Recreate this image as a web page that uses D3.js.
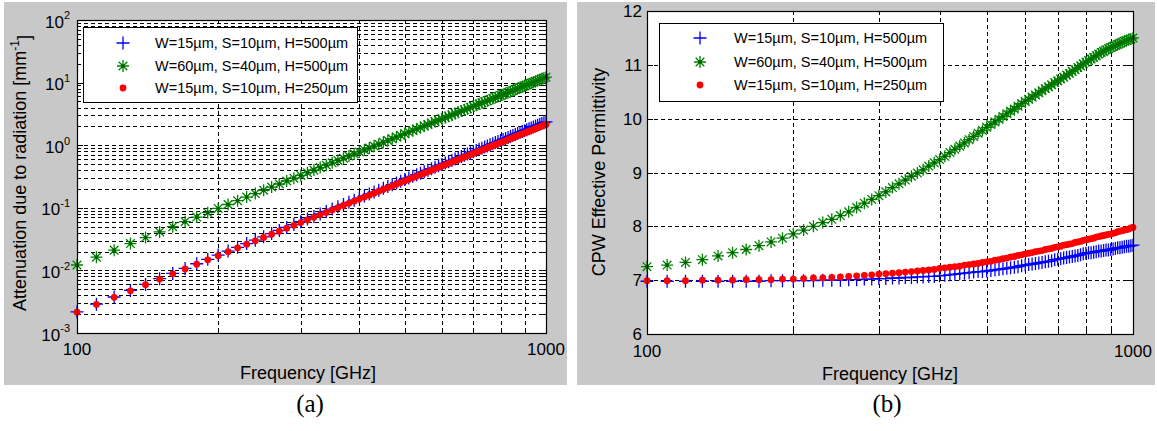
<!DOCTYPE html>
<html>
<head>
<meta charset="utf-8">
<script src="https://cdn.jsdelivr.net/npm/d3@7"></script>
<style>
body { margin: 0; background: #fff; }
text { font-family: Arial, "Liberation Sans", sans-serif; fill: #000; }
</style>
</head>
<body>
<div id="chart"></div>
<script>
// Frequency grid [GHz]
const freqs = [100,110,120,130,140,150,160,170,180,190,200,210,220,230,240,250,260,270,280,290,
  300,310,320,330,340,350,360,370,380,390,400,410,420,430,440,450,460,470,480,490,
  500,510,520,530,540,550,560,570,580,590,600,610,620,630,640,650,660,670,680,690,
  700,710,720,730,740,750,760,770,780,790,800,810,820,830,840,850,860,870,880,890,
  900,910,920,930,940,950,960,970,980,990,1000];

// (a) attenuation due to radiation [mm^-1]
const attBlue = [0.00217,0.00289,0.00376,0.00478,0.00598,0.00737,0.00895,0.01074,0.01277,0.01503,
  0.01754,0.02032,0.02340,0.02680,0.03041,0.03444,0.03878,0.04344,0.04852,0.05392,
  0.05984,0.06609,0.07276,0.07985,0.08737,0.09543,0.1039,0.1129,0.1225,0.1325,
  0.1431,0.1543,0.1660,0.1782,0.1912,0.2047,0.2189,0.2337,0.2492,0.2653,
  0.2822,0.2997,0.3180,0.3371,0.3568,0.3774,0.3987,0.4209,0.4438,0.4677,
  0.4923,0.5178,0.5442,0.5715,0.5997,0.6288,0.6589,0.6899,0.7220,0.7550,
  0.7891,0.8241,0.8603,0.8975,0.9357,0.9750,1.0155,1.0571,1.0999,1.1437,
  1.1889,1.2352,1.2826,1.3313,1.3813,1.4326,1.4851,1.5390,1.5941,1.6506,
  1.7085,1.7676,1.8282,1.8902,1.9537,2.0185,2.0848,2.1525,2.2219,2.2926,
  2.365];
const attGreen = [0.0122,0.01624,0.02108,0.02680,0.03348,0.04118,0.04997,0.05994,0.07115,0.08368,
  0.0976,0.1130,0.1299,0.1484,0.1687,0.1906,0.2144,0.2401,0.2678,0.2975,
  0.3294,0.3634,0.3998,0.4384,0.4795,0.5231,0.5692,0.6180,0.6694,0.7237,
  0.7808,0.8408,0.9039,0.9700,1.0392,1.1117,1.1875,1.2666,1.3492,1.4353,
  1.525,1.6183,1.7154,1.8163,1.9211,2.0298,2.1425,2.2594,2.3804,2.5056,
  2.6352,2.7692,2.9076,3.0506,3.1982,3.3504,3.5075,3.6693,3.8361,4.0078,
  4.1846,4.3665,4.5536,4.7460,4.9437,5.1469,5.3555,5.5697,5.7895,6.0151,
  6.2464,6.4836,6.7267,6.9758,7.2310,7.4923,7.7599,8.0337,8.3140,8.6006,
  8.8938,9.1936,9.5000,9.8132,10.133,10.460,10.794,11.135,11.483,11.838,
  12.2];
const attRed = [0.00215,0.00286,0.00372,0.00472,0.00590,0.00726,0.00881,0.01056,0.01254,0.01475,
  0.0172,0.0199,0.0229,0.0262,0.0297,0.0336,0.0378,0.0423,0.0472,0.0524,
  0.0581,0.0641,0.0705,0.0773,0.0845,0.0922,0.1003,0.1089,0.1180,0.1275,
  0.1376,0.1482,0.1593,0.1709,0.1831,0.1959,0.2093,0.2232,0.2378,0.2529,
  0.2688,0.2852,0.3023,0.3201,0.3385,0.3577,0.3776,0.3982,0.4195,0.4416,
  0.4644,0.4880,0.5124,0.5376,0.5636,0.5904,0.6181,0.6466,0.6760,0.7063,
  0.7375,0.7695,0.8025,0.8364,0.8712,0.9070,0.9438,0.9815,1.0203,1.0600,
  1.1008,1.1426,1.1854,1.2293,1.2743,1.3204,1.3675,1.4158,1.4652,1.5157,
  1.5674,1.6202,1.6742,1.7294,1.7858,1.8434,1.9022,1.9622,2.0236,2.0861,
  2.15];

// (b) CPW effective permittivity
const permBlue = [6.98,6.98,6.98,6.98,6.98,6.98,6.98,6.98,6.99,6.99,
  6.99,6.99,6.99,7.00,7.00,7.00,7.01,7.01,7.02,7.02,
  7.03,7.03,7.04,7.04,7.05,7.05,7.06,7.06,7.07,7.07,
  7.08,7.09,7.10,7.11,7.12,7.13,7.14,7.15,7.16,7.16,
  7.17,7.18,7.19,7.20,7.21,7.22,7.23,7.24,7.25,7.27,
  7.28,7.29,7.30,7.31,7.32,7.33,7.34,7.35,7.36,7.38,
  7.39,7.40,7.41,7.42,7.43,7.44,7.45,7.46,7.47,7.49,
  7.50,7.51,7.51,7.52,7.53,7.54,7.54,7.55,7.56,7.56,
  7.57,7.58,7.59,7.60,7.60,7.61,7.62,7.63,7.63,7.64,
  7.65];
const permGreen = [7.25,7.28,7.33,7.38,7.45,7.51,7.57,7.64,7.71,7.78,
  7.86,7.93,8.00,8.07,8.13,8.20,8.27,8.35,8.43,8.50,
  8.57,8.64,8.72,8.79,8.86,8.93,8.99,9.05,9.12,9.18,
  9.24,9.30,9.37,9.43,9.49,9.55,9.61,9.67,9.73,9.78,
  9.84,9.89,9.94,9.99,10.04,10.09,10.14,10.18,10.23,10.28,
  10.32,10.36,10.40,10.44,10.48,10.52,10.56,10.59,10.63,10.67,
  10.70,10.74,10.77,10.81,10.84,10.88,10.91,10.95,10.98,11.02,
  11.05,11.08,11.11,11.14,11.17,11.20,11.23,11.25,11.28,11.30,
  11.32,11.34,11.36,11.38,11.40,11.42,11.44,11.45,11.47,11.48,
  11.50];
const permRed = [6.99,6.99,6.99,7.00,7.00,7.00,7.01,7.01,7.01,7.02,
  7.02,7.03,7.04,7.04,7.05,7.06,7.07,7.08,7.09,7.10,
  7.11,7.12,7.13,7.14,7.15,7.16,7.17,7.18,7.19,7.20,
  7.22,7.23,7.24,7.25,7.26,7.28,7.29,7.30,7.31,7.33,
  7.34,7.35,7.37,7.38,7.40,7.41,7.43,7.44,7.46,7.47,
  7.49,7.50,7.51,7.53,7.54,7.55,7.57,7.58,7.59,7.61,
  7.62,7.63,7.65,7.66,7.67,7.68,7.70,7.71,7.72,7.74,
  7.75,7.76,7.77,7.78,7.80,7.81,7.82,7.83,7.84,7.85,
  7.86,7.87,7.88,7.90,7.91,7.92,7.93,7.94,7.95,7.97,
  7.98];

const legendLabels = ["W=15\u00b5m, S=10\u00b5m, H=500\u00b5m", "W=60\u00b5m, S=40\u00b5m, H=500\u00b5m", "W=15\u00b5m, S=10\u00b5m, H=250\u00b5m"];
const attExponents = [-3, -2, -1, 0, 1, 2];
const permTicks = [6, 7, 8, 9, 10, 11, 12];
const freqTickLabels = [100, 1000];

const svg = d3.select("#chart").append("svg")
  .attr("width", 1157)
  .attr("height", 431);

const plusPath = "M-6.5,0H6.5M0,-6.5V6.5";
const starPath = "M-6,0H6M0,-6V6M-4.3,-4.3L4.3,4.3M-4.3,4.3L4.3,-4.3";

// draw one marker of a series style
function marker(g, kind, x, y) {
  if (kind === "plus") {
    g.append("path").attr("d", plusPath).attr("transform", `translate(${x},${y})`)
      .attr("stroke", "#0000ff").attr("stroke-width", 1.3).attr("fill", "none");
  } else if (kind === "star") {
    g.append("path").attr("d", starPath).attr("transform", `translate(${x},${y})`)
      .attr("stroke", "#008000").attr("stroke-width", 1.3).attr("fill", "none");
    g.append("circle").attr("cx", x).attr("cy", y).attr("r", 1.8).attr("fill", "#006000");
  } else {
    g.append("circle").attr("cx", x).attr("cy", y).attr("r", 3.4).attr("fill", "#ff0000");
  }
}

function panel(p) {
  const g = svg.append("g");
  // gray figure background
  g.append("rect").attr("x", p.bg[0]).attr("y", p.bg[1]).attr("width", p.bg[2]).attr("height", p.bg[3])
    .attr("fill", "#c8c8c8");
  const [x0, x1] = p.x.range();
  const [y0, y1] = p.y.range();
  g.append("rect").attr("x", x0).attr("y", y1).attr("width", x1 - x0).attr("height", y0 - y1)
    .attr("fill", "#fff");

  // grid lines
  const grid = g.append("g").attr("stroke", "#000").attr("stroke-width", 1).attr("stroke-dasharray", "4,3");
  grid.selectAll(".gx").data(p.x.ticks().filter(d => d > 100 && d < 1000)).join("line")
    .attr("x1", d => Math.round(p.x(d)) + 0.5).attr("x2", d => Math.round(p.x(d)) + 0.5)
    .attr("y1", y1).attr("y2", y0);
  grid.selectAll(".gy").data(p.yGrid).join("line")
    .attr("y1", d => Math.round(p.y(d)) + 0.5).attr("y2", d => Math.round(p.y(d)) + 0.5)
    .attr("x1", x0).attr("x2", x1);

  // tick marks
  const ticks = g.append("g").attr("stroke", "#000").attr("stroke-width", 1);
  p.x.ticks().forEach(d => {
    const xx = Math.round(p.x(d)) + 0.5;
    const len = (d === 100 || d === 1000) ? 6 : 4;
    ticks.append("line").attr("x1", xx).attr("x2", xx).attr("y1", y0).attr("y2", y0 - len);
    ticks.append("line").attr("x1", xx).attr("x2", xx).attr("y1", y1).attr("y2", y1 + len);
  });
  p.yGrid.forEach(d => {
    const yy = Math.round(p.y(d)) + 0.5;
    const len = p.yMajor.includes(d) ? 6 : 4;
    ticks.append("line").attr("x1", x0).attr("x2", x0 + len).attr("y1", yy).attr("y2", yy);
    ticks.append("line").attr("x1", x1).attr("x2", x1 - len).attr("y1", yy).attr("y2", yy);
  });

  // series: blue, green, red
  const kinds = ["plus", "star", "dot"];
  const marks = g.append("g");
  p.series.forEach((vals, k) => {
    vals.forEach((v, i) => marker(marks, kinds[k], p.x(freqs[i]), p.y(v)));
  });

  // axes box
  g.append("rect").attr("x", x0 + 0.5).attr("y", y1 + 0.5).attr("width", x1 - x0).attr("height", y0 - y1)
    .attr("fill", "none").attr("stroke", "#000").attr("stroke-width", 1.2);

  // x tick labels
  g.selectAll(".xl").data(freqTickLabels).join("text")
    .attr("x", d => p.x(d)).attr("y", p.xLabelY)
    .attr("text-anchor", "middle").attr("font-size", 17)
    .text(d => d);

  // x axis title
  g.append("text").attr("x", p.xTitle[0]).attr("y", p.xTitle[1])
    .attr("text-anchor", "middle").attr("font-size", 18).text("Frequency [GHz]");

  // legend
  const L = p.legend;
  g.append("rect").attr("x", L.x + 0.5).attr("y", L.y + 0.5).attr("width", L.w).attr("height", L.h)
    .attr("fill", "#fff").attr("stroke", "#000").attr("stroke-width", 1);
  legendLabels.forEach((lab, k) => {
    const yy = L.rows[k];
    marker(g, kinds[k], L.mx, yy);
    g.append("text").attr("x", L.tx).attr("y", yy).attr("dy", "0.36em")
      .attr("font-size", 14.5).text(lab);
  });

  // caption
  g.append("text").attr("x", p.caption[0]).attr("y", 412).attr("text-anchor", "middle")
    .attr("font-size", 25).style("font-family", "'Liberation Serif', 'Times New Roman', serif")
    .text(p.caption[1]);
  return g;
}

// (a)
const xA = d3.scaleLog().domain([100, 1000]).range([77, 546]);
const yA = d3.scaleLog().domain([1e-3, 1e2]).range([333, 20]);
const gA = panel({
  bg: [4, 2, 563, 383],
  x: xA, y: yA,
  yGrid: yA.ticks(),
  yMajor: attExponents.map(e => Math.pow(10, e)),
  series: [attBlue, attGreen, attRed],
  xLabelY: 355,
  xTitle: [308, 379],
  legend: { x: 83, y: 27, w: 274, h: 75, rows: [43, 66, 88], mx: 123, tx: 155 },
  caption: [310, "(a)"]
});
attExponents.forEach(e => {
  const t = gA.append("text").attr("x", 70).attr("y", yA(Math.pow(10, e))).attr("dy", "0.45em")
    .attr("text-anchor", "end").attr("font-size", 17);
  t.append("tspan").text("10");
  t.append("tspan").attr("dy", "-0.75em").attr("font-size", 11).text(e);
});
const yTitleA = gA.append("text").attr("transform", "translate(26,173) rotate(-90)")
  .attr("text-anchor", "middle").attr("font-size", 18);
yTitleA.append("tspan").text("Attenuation due to radiation [mm");
yTitleA.append("tspan").attr("dy", "-0.6em").attr("font-size", 12).text("-1");
yTitleA.append("tspan").attr("dy", "0.6em").text("]");

// (b)
const xB = d3.scaleLog().domain([100, 1000]).range([647, 1133]);
const yB = d3.scaleLinear().domain([6, 12]).range([334, 11]);
const gB = panel({
  bg: [577, 2, 578, 383],
  x: xB, y: yB,
  yGrid: permTicks.filter(d => d > 6 && d < 12),
  yMajor: permTicks,
  series: [permBlue, permGreen, permRed],
  xLabelY: 357,
  xTitle: [890, 380],
  legend: { x: 659, y: 23, w: 284, h: 78, rows: [38, 62, 85], mx: 700, tx: 734 },
  caption: [887, "(b)"]
});
gB.selectAll(".yl").data(permTicks).join("text")
  .attr("x", 642).attr("y", d => yB(d)).attr("dy", "0.36em")
  .attr("text-anchor", "end").attr("font-size", 17).text(d => d);
gB.append("text").attr("transform", "translate(605,172) rotate(-90)")
  .attr("text-anchor", "middle").attr("font-size", 18).text("CPW Effective Permittivity");
</script>
</body>
</html>
